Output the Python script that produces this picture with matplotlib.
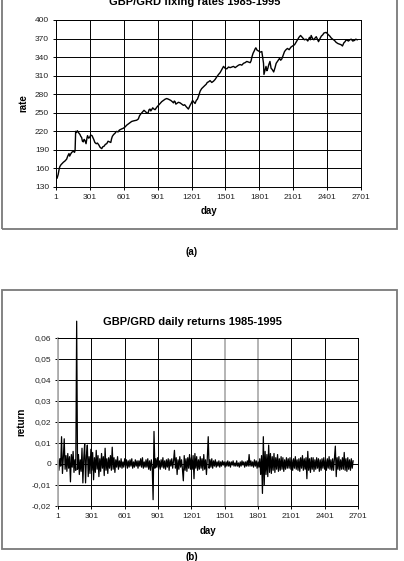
"""
GBP/GRD fixing rates and daily returns 1985-1995
"""
import matplotlib
matplotlib.use("Agg")
import matplotlib.pyplot as plt
from matplotlib.patches import Rectangle
from matplotlib.ticker import FuncFormatter
import numpy as np

plt.rcParams['font.family'] = ['Liberation Sans', 'DejaVu Sans']

# fixing rate: (day, rate)
rate_days = [
    1, 10, 20, 30, 35, 45, 55, 66, 80, 95, 105, 116, 122, 130, 140, 155, 165, 170, 175, 182,
    190, 200, 213, 220, 228, 235, 243, 250, 258, 267, 273, 280, 290, 298, 308, 320, 328, 335, 345, 357,
    368, 380, 392, 406, 415, 427, 438, 450, 462, 474, 486, 493, 500, 512, 524, 531, 539, 550, 562, 572,
    583, 597, 612, 627, 642, 656, 671, 690, 715, 730, 740, 751, 765, 780, 792, 804, 815, 825, 833, 840,
    848, 857, 868, 878, 893, 908, 922, 937, 952, 967, 981, 996, 1007, 1017, 1030, 1041, 1048, 1055, 1062, 1070,
    1085, 1100, 1115, 1129, 1140, 1153, 1163, 1173, 1180, 1188, 1200, 1210, 1218, 1232, 1243, 1253, 1265, 1277, 1290, 1306,
    1318, 1330, 1340, 1351, 1365, 1380, 1395, 1410, 1424, 1440, 1454, 1469, 1484, 1498, 1513, 1528, 1543, 1557, 1572, 1587,
    1602, 1617, 1631, 1646, 1661, 1675, 1690, 1705, 1720, 1728, 1735, 1745, 1756, 1763, 1770, 1782, 1794, 1808, 1823, 1830,
    1838, 1842, 1850, 1860, 1868, 1875, 1885, 1895, 1905, 1915, 1928, 1940, 1950, 1965, 1980, 1990, 2000, 2012, 2024, 2037,
    2050, 2065, 2080, 2095, 2113, 2126, 2140, 2152, 2166, 2176, 2186, 2200, 2216, 2230, 2245, 2252, 2260, 2272, 2284, 2295,
    2305, 2315, 2325, 2338, 2350, 2362, 2373, 2393, 2403, 2413, 2425, 2437, 2450, 2466, 2480, 2496, 2510, 2525, 2537, 2549,
    2560, 2570, 2580, 2590, 2602, 2614, 2628, 2643, 2655, 2667,
]
rate_values = [
    146, 144, 150, 160, 163, 166, 168, 170, 172, 175, 180, 184, 180, 183, 186, 188, 186, 189, 220, 218,
    221, 218, 215, 212, 210, 204, 203, 207, 205, 200, 207, 213, 209, 210, 214, 213, 210, 207, 202, 200,
    201, 198, 194, 192, 195, 196, 199, 200, 204, 203, 202, 208, 212, 215, 217, 219, 220, 219, 222, 223,
    224, 225, 227, 230, 232, 234, 236, 237, 238, 240, 245, 248, 251, 254, 252, 250, 249, 255, 256, 253,
    255, 258, 256, 255, 259, 262, 265, 268, 270, 272, 273, 272, 271, 270, 268, 266, 269, 268, 264, 265,
    267, 266, 264, 262, 263, 260, 258, 256, 259, 262, 266, 270, 268, 265, 270, 272, 278, 285, 289, 292,
    294, 296, 299, 300, 302, 299, 301, 304, 308, 312, 315, 320, 325, 322, 321, 324, 323, 324, 325, 323,
    325, 327, 328, 327, 330, 331, 333, 332, 331, 334, 340, 346, 350, 353, 355, 351, 350, 348, 349, 340,
    330, 312, 318, 325, 318, 321, 328, 333, 322, 320, 316, 323, 330, 334, 338, 335, 337, 343, 349, 352,
    354, 352, 356, 358, 360, 364, 368, 372, 375, 373, 371, 368, 369, 366, 372, 368, 375, 370, 368, 371,
    373, 369, 365, 370, 374, 376, 379, 380, 378, 376, 374, 371, 369, 367, 364, 362, 361, 360, 358, 363,
    365, 368, 367, 366, 368, 369, 366, 367, 369, 368,
]

# daily returns, one value every 8 days, in units of 0.001
return_step = 8
returns_permille = [
    1.5, -3.0, 2.5, -1.0, 13.0, -4.5, 3.0, 12.0, -2.5, 4.0,
    -3.5, 5.0, -2.0, 3.5, -8.5, 4.5, -1.5, 6.0, -4.0, 2.0,
    -3.0, 68.0, -2.5, 4.5, -5.0, 2.0, -3.5, 7.5, -9.0, 3.0,
    9.5, -9.0, 4.0, 9.0, -6.0, 3.5, -4.5, 7.0, -3.0, 5.5,
    -7.5, 3.0, -4.0, 6.5, -2.5, 4.0, -6.0, 2.5, -3.5, 5.0,
    -2.0, 3.5, -5.5, 7.5, -3.0, 2.5, -4.5, 3.0, -2.0, 4.0,
    -3.0, 8.0, -2.5, 3.0, -4.0, 2.0, -1.5, 3.5, -2.5, 1.5,
    -1.5, 2.5, -2.0, 1.0, -1.5, 2.5, -1.0, 2.0, -2.0, 1.5,
    -1.5, 2.0, -1.0, 2.5, -2.0, 1.0, -1.5, 2.0, -1.0, 1.5,
    -2.0, 1.5, -1.0, 2.5, -1.5, 3.0, -2.0, 1.0, -1.5, 2.0,
    -1.5, 2.5, -2.5, 1.5, -3.0, 2.0, -1.5, -17.0, 15.5, -2.0,
    2.5, -1.5, 3.0, -2.0, 1.5, -2.5, 2.0, -1.5, 3.0, -2.0,
    1.5, -2.5, 2.0, -1.5, 2.5, -3.0, 2.0, -1.0, 2.5, -2.0,
    1.5, 6.5, -2.0, 3.0, -5.0, 2.0, -2.5, 3.5, -1.5, 2.0,
    -2.5, -8.0, 4.0, -3.0, 2.5, -3.5, 3.0, -2.0, 4.5, -2.5,
    3.0, -2.5, 4.0, -7.0, 5.0, -2.0, 3.5, -3.0, 2.0, -2.5,
    3.5, -2.0, 2.5, -3.0, 4.5, -2.5, 2.0, -5.0, 3.0, 13.0,
    -2.0, 2.0, -1.5, 2.5, -2.0, 1.5, -1.0, 2.0, -1.5, 1.0,
    -1.0, 1.5, -1.5, 1.0, -1.0, 1.5, -0.5, 1.0, -1.5, 1.0,
    -1.0, 1.5, -1.0, 1.0, -1.5, 1.0, -0.5, 1.5, -1.0, 0.5,
    -1.0, 1.5, -1.0, 0.5, -1.5, 1.0, -1.0, 1.5, -0.5, 1.0,
    -1.5, 1.0, -1.0, 1.5, -1.0, 4.5, -1.0, 1.5, -1.0, 1.0,
    -1.5, 2.0, -1.0, 1.5, -2.0, 1.0, -1.5, 2.5, -5.0, 4.0,
    -14.0, 13.0, -10.0, 6.0, -5.0, 4.5, -6.0, 9.0, -4.0, 5.0,
    -4.5, 3.5, -3.0, 5.0, -4.0, 3.0, -2.5, 4.5, -3.5, 2.5,
    -3.0, 3.5, -2.5, 3.0, -3.5, 2.0, -2.5, 3.0, -2.0, 2.5,
    -2.0, 3.0, -2.5, 2.0, -3.0, 2.5, -2.0, 3.5, -2.5, 2.0,
    -3.0, 2.5, -3.5, 3.0, -2.0, 4.0, -3.0, 2.5, -2.5, 3.0,
    -7.0, 6.0, -3.0, 2.5, -4.0, 3.0, -2.5, 3.0, -3.5, 2.0,
    -2.5, 3.0, -2.0, 2.5, -3.5, 2.0, -3.0, 2.5, -2.0, 3.0,
    -2.5, 2.0, -3.0, 2.5, -2.0, 3.5, -2.5, 2.0, -3.0, 2.5,
    -3.0, 2.5, 8.5, -6.0, 3.0, -2.5, 3.5, -3.0, 2.0, -2.5,
    3.0, -2.5, 5.5, -3.0, 2.5, -3.5, 3.0, -2.5, 2.0, -3.0, 2.5, -2.0, 1.5,
]

day_ticks = [1, 301, 601, 901, 1201, 1501, 1801, 2101, 2401, 2701]
rate_ticks = [130, 160, 190, 220, 250, 280, 310, 340, 370, 400]
return_ticks = [-0.02, -0.01, 0, 0.01, 0.02, 0.03, 0.04, 0.05, 0.06]

W, H = 404, 561
fig = plt.figure(figsize=(W / 100, H / 100), dpi=100)


def px_axes(left, top, right, bottom):
    return fig.add_axes([left / W, 1 - bottom / H, (right - left) / W, (bottom - top) / H])


def frame(left, top, right, bottom):
    fig.patches.append(Rectangle((left / W, 1 - bottom / H), (right - left) / W, (bottom - top) / H,
                                 transform=fig.transFigure, fill=False, edgecolor='#7a7a7a',
                                 linewidth=1.3))


def style_axes(ax, yticks):
    ax.set_xlim(1, 2701)
    ax.set_xticks(day_ticks)
    ax.set_yticks(yticks)
    ax.grid(True, color='black', linewidth=0.7)
    ax.set_axisbelow(True)
    for s in ax.spines.values():
        s.set_linewidth(0.7)
    ax.tick_params(axis='both', labelsize=6, length=2.5, width=0.7, pad=2.5,
                   labelcolor='#222222')


# frames
frame(2, -5, 397, 229)
frame(2, 290, 397, 549)

# panel (a)
ax1 = px_axes(56, 20, 361, 187)
ax1.plot(rate_days, rate_values, color='black', linewidth=1.0)
style_axes(ax1, rate_ticks)
ax1.set_ylim(130, 400)
ax1.set_ylabel('rate', fontsize=7, fontweight='bold', labelpad=5)
ax1.set_xlabel('day', fontsize=7, fontweight='bold', labelpad=4)
fig.text(195 / W, 1 - 5 / H, 'GBP/GRD fixing rates 1985-1995', ha='center', va='baseline',
         fontsize=8, fontweight='bold')
fig.text(192 / W, 1 - 252 / H, '(a)', ha='center', va='center', fontsize=7, fontweight='bold')

# panel (b)
ax2 = px_axes(58, 338, 358, 506)
return_days = np.arange(len(returns_permille)) * return_step + 1
returns = np.array(returns_permille) / 1000.0
ax2.plot(return_days, returns, color='black', linewidth=0.9, clip_on=False)
style_axes(ax2, return_ticks)
ax2.set_ylim(-0.02, 0.06)
ax2.yaxis.set_major_formatter(FuncFormatter(
    lambda v, p: '0' if abs(v) < 1e-9 else ('%.2f' % v).replace('.', ',')))
# a few vertical rules print lighter in the original
for line, day in zip(ax2.get_xgridlines(), day_ticks):
    if day in (1, 1501, 1801):
        line.set_color('#a8a8a8')
        line.set_linewidth(1.2)
ax2.spines['left'].set_color('#a8a8a8')
ax2.spines['left'].set_linewidth(1.2)
ax2.set_ylabel('return', fontsize=7, fontweight='bold', labelpad=4)
ax2.set_xlabel('day', fontsize=7, fontweight='bold', labelpad=4)
fig.text(192 / W, 1 - 325 / H, 'GBP/GRD daily returns 1985-1995', ha='center', va='baseline',
         fontsize=8, fontweight='bold')
fig.text(192 / W, 1 - 557 / H, '(b)', ha='center', va='center', fontsize=7, fontweight='bold')

fig.savefig('out.png', dpi=100)
